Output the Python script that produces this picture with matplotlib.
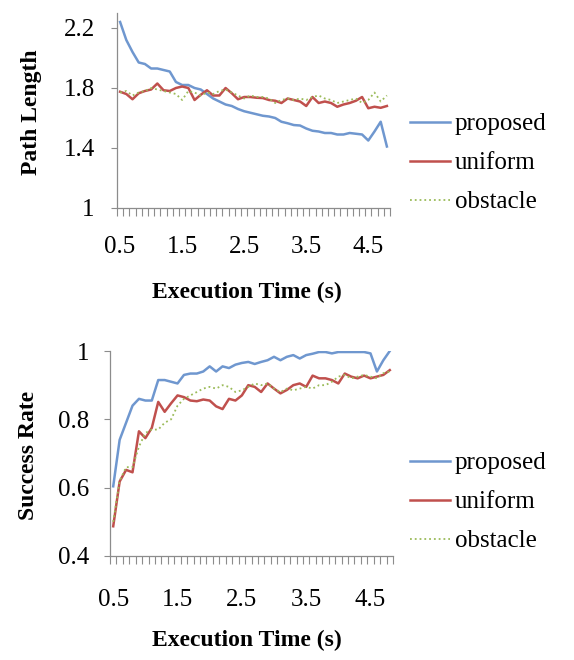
import numpy as np
import matplotlib
matplotlib.use('Agg')
import matplotlib.pyplot as plt
from matplotlib.ticker import FormatStrFormatter

# execution time, 0.5 .. 4.8 s in 0.1 s steps
time_s = np.round(np.arange(0.5, 4.81, 0.1), 1)
x_labels = [0.5, 1.5, 2.5, 3.5, 4.5]
path_yticks = [1.0, 1.4, 1.8, 2.2]
succ_yticks = [0.4, 0.6, 0.8, 1.0]

# path length
path_proposed = [2.24, 2.12, 2.04, 1.97, 1.96, 1.93, 1.93, 1.92, 1.91, 1.84,
                 1.82, 1.82, 1.80, 1.79, 1.76, 1.73, 1.71, 1.69, 1.68, 1.66,
                 1.645, 1.635, 1.625, 1.615, 1.61, 1.60, 1.575, 1.565, 1.553, 1.55,
                 1.53, 1.515, 1.51, 1.50, 1.50, 1.49, 1.49, 1.50, 1.495, 1.49,
                 1.45, 1.51, 1.575, 1.41]
path_uniform = [1.775, 1.76, 1.725, 1.765, 1.78, 1.79, 1.83, 1.785, 1.78, 1.80,
                1.81, 1.80, 1.72, 1.755, 1.785, 1.75, 1.75, 1.80, 1.765, 1.725,
                1.74, 1.74, 1.735, 1.733, 1.72, 1.715, 1.70, 1.73, 1.72, 1.71,
                1.68, 1.74, 1.70, 1.71, 1.70, 1.675, 1.69, 1.70, 1.715, 1.74,
                1.665, 1.675, 1.668, 1.68]
path_obstacle = [1.77, 1.78, 1.75, 1.77, 1.78, 1.80, 1.79, 1.78, 1.77, 1.76,
                 1.72, 1.78, 1.77, 1.75, 1.77, 1.76, 1.78, 1.79, 1.77, 1.75,
                 1.73, 1.75, 1.74, 1.74, 1.73, 1.70, 1.72, 1.73, 1.72, 1.73,
                 1.72, 1.74, 1.75, 1.73, 1.72, 1.70, 1.71, 1.72, 1.73, 1.70,
                 1.72, 1.77, 1.71, 1.75]

# success rate
succ_proposed = [0.604, 0.74, 0.79, 0.84, 0.86, 0.855, 0.855, 0.915, 0.915, 0.91,
                 0.905, 0.93, 0.934, 0.934, 0.94, 0.955, 0.94, 0.955, 0.95, 0.96,
                 0.965, 0.968, 0.962, 0.968, 0.973, 0.983, 0.973, 0.983, 0.988, 0.978,
                 0.988, 0.992, 0.997, 0.997, 0.993, 0.997, 0.997, 0.997, 0.997, 0.997,
                 0.993, 0.94, 0.973, 1.0]
succ_uniform = [0.487, 0.618, 0.652, 0.645, 0.765, 0.745, 0.775, 0.851, 0.822, 0.847,
                0.87, 0.865, 0.855, 0.853, 0.858, 0.855, 0.838, 0.83, 0.86, 0.855,
                0.87, 0.90, 0.895, 0.88, 0.905, 0.89, 0.876, 0.886, 0.90, 0.905,
                0.895, 0.928, 0.92, 0.92, 0.915, 0.905, 0.934, 0.925, 0.92, 0.928,
                0.92, 0.925, 0.93, 0.944]
succ_obstacle = [0.50, 0.62, 0.66, 0.66, 0.72, 0.76, 0.77, 0.77, 0.79, 0.80,
                 0.84, 0.86, 0.87, 0.88, 0.89, 0.895, 0.89, 0.90, 0.895, 0.88,
                 0.885, 0.895, 0.905, 0.90, 0.905, 0.89, 0.88, 0.89, 0.885, 0.89,
                 0.895, 0.89, 0.90, 0.90, 0.91, 0.925, 0.93, 0.92, 0.925, 0.93,
                 0.925, 0.92, 0.935, 0.94]

blue = '#6f97cf'
red = '#c0504d'
green = '#9bbb59'
axis_gray = '#8c8c8c'

plt.rcParams['font.family'] = ['Liberation Serif', 'DejaVu Serif']

fig = plt.figure(figsize=(5.74, 6.60), dpi=100)
W, H = 574, 660


def px_axes(left, right, top, bottom):
    return fig.add_axes([left / W, 1 - bottom / H, (right - left) / W, (bottom - top) / H])


def style_axes(ax, ylim, yticks, ypad, xpad):
    ax.set_xlim(0.45, 4.85)
    ax.set_ylim(*ylim)
    for side in ['top', 'right']:
        ax.spines[side].set_visible(False)
    for side in ['left', 'bottom']:
        ax.spines[side].set_color(axis_gray)
        ax.spines[side].set_linewidth(0.9)
    ax.set_yticks(yticks)
    ax.yaxis.set_major_formatter(FormatStrFormatter('%g'))
    ax.set_xticks(x_labels)
    ax.set_xticklabels([f'{v:g}' for v in x_labels])
    ax.set_xticks(np.arange(0.45, 4.86, 0.1), minor=True)
    ax.tick_params(axis='x', which='major', length=0, labelsize=18, pad=xpad)
    ax.tick_params(axis='x', which='minor', length=6, color=axis_gray, width=0.8)
    ax.tick_params(axis='y', length=4, color=axis_gray, width=0.8, labelsize=18, pad=ypad)


def draw_lines(ax, a, b, c):
    ax.plot(time_s, a, color=blue, lw=1.8, label='proposed')
    ax.plot(time_s, b, color=red, lw=1.8, label='uniform')
    ax.plot(time_s, c, color=green, lw=1.3, ls=':', label='obstacle')


ax1 = px_axes(117, 390, 13, 208)
draw_lines(ax1, path_proposed, path_uniform, path_obstacle)
style_axes(ax1, (1.0, 2.3), path_yticks, 12, 20)

ax2 = px_axes(110, 393, 351, 556)
draw_lines(ax2, succ_proposed, succ_uniform, succ_obstacle)
style_axes(ax2, (0.4, 1.0), succ_yticks, 11, 24)

for ax, yc in [(ax1, 163), (ax2, 502)]:
    ax.legend(loc='center left', bbox_to_anchor=(410 / W, 1 - yc / H),
              bbox_transform=fig.transFigure, frameon=False, fontsize=18,
              handlelength=1.6, handletextpad=0.2, labelspacing=0.66,
              borderpad=0, borderaxespad=0)

fig.text(247 / W, 1 - 292 / H, 'Execution Time (s)', ha='center', va='center',
         fontsize=17, fontweight='bold')
fig.text(247 / W, 1 - 640 / H, 'Execution Time (s)', ha='center', va='center',
         fontsize=17, fontweight='bold')
fig.text(32 / W, 1 - 112 / H, 'Path Length', ha='center', va='center',
         rotation=90, fontsize=17, fontweight='bold')
fig.text(28 / W, 1 - 455 / H, 'Success Rate', ha='center', va='center',
         rotation=90, fontsize=17, fontweight='bold')

fig.savefig('out.png', dpi=100)
